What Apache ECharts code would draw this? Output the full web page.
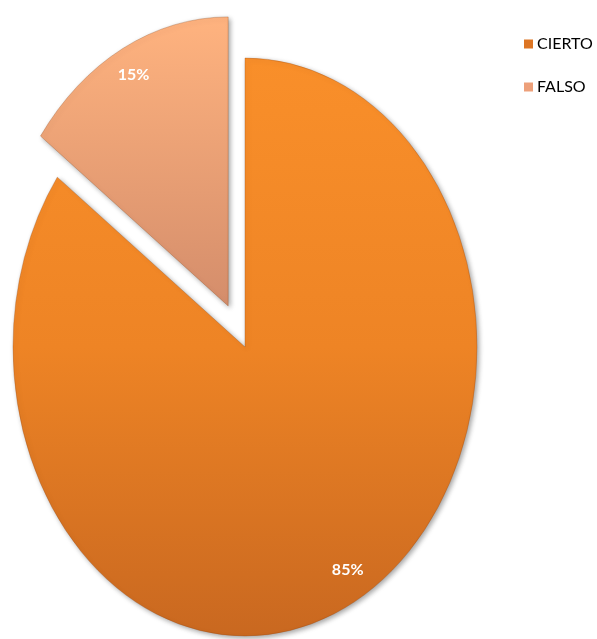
<!DOCTYPE html>
<html>
<head>
<meta charset="utf-8">
<script src="https://cdn.jsdelivr.net/npm/echarts@6/dist/echarts.min.js"></script>
<style>html,body{margin:0;padding:0;background:#fff;}#c{width:597px;height:639px;}</style>
</head>
<body>
<div id="c"></div>
<script>
const categories = ['CIERTO', 'FALSO'];
const values = [85, 15];
const labels = ['85%', '15%'];

const total = values.reduce((a, b) => a + b, 0);
const CX = 245, CY = 347, R = 232, SY = 289 / 232;
const EXPLODE = [0, 37];
const LABEL_NUDGE = [[10, -4], [-2, -4]];
const fills = [
  [[0, '#F98F2A'], [0.5, '#EE8425'], [1, '#C96820']],
  [[0, '#FFB37F'], [1, '#D48D6B']]
];
const legendColors = ['#DD7523', '#EDA07A'];

function startFrac(i) {
  let s = 0;
  for (let k = 0; k < i; k++) s += values[k];
  return s / total;
}

const series = categories.map((name, i) => ({
  type: 'custom',
  name: name,
  coordinateSystem: 'none',
  itemStyle: { color: legendColors[i] },
  data: [[values[i]]],
  renderItem: function (params, api) {
    const v = api.value(0);
    const f0 = startFrac(i);
    const f1 = f0 + v / total;
    const a0 = -Math.PI / 2 + f0 * 2 * Math.PI;
    const a1 = -Math.PI / 2 + f1 * 2 * Math.PI;
    const mid = (a0 + a1) / 2;
    const d = EXPLODE[i];
    const ox = CX + Math.cos(mid) * d;
    const oy = CY + Math.sin(mid) * d * SY;
    const lx = ox + Math.cos(mid) * R * 0.88 + LABEL_NUDGE[i][0];
    const ly = oy + Math.sin(mid) * R * 0.88 * SY + LABEL_NUDGE[i][1];
    return {
      type: 'group',
      children: [
        {
          type: 'sector',
          x: ox, y: oy, scaleY: SY,
          shape: { cx: 0, cy: 0, r: R, r0: 0, startAngle: a0, endAngle: a1, clockwise: true },
          style: {
            fill: new echarts.graphic.LinearGradient(0, 0, 0, 1,
              fills[i].map(s => ({ offset: s[0], color: s[1] }))),
            stroke: 'rgba(150,70,20,0.35)',
            lineWidth: 0.8,
            strokeNoScale: true,
            shadowBlur: 5,
            shadowOffsetX: 2,
            shadowOffsetY: 2,
            shadowColor: 'rgba(0,0,0,0.35)'
          }
        },
        {
          type: 'text',
          x: lx, y: ly,
          style: {
            text: labels[i],
            fill: '#ffffff',
            font: 'bold 16px Lato, "Open Sans", sans-serif',
            align: 'center',
            verticalAlign: 'middle'
          }
        }
      ]
    };
  }
}));

const chart = echarts.init(document.getElementById('c'), null, { renderer: 'canvas' });
chart.setOption({
  animation: false,
  backgroundColor: '#ffffff',
  legend: {
    orient: 'vertical',
    left: 519,
    top: 31,
    itemWidth: 9,
    itemHeight: 9,
    itemGap: 27,
    icon: 'rect',
    data: categories,
    textStyle: { fontFamily: 'Lato, "Open Sans", sans-serif', fontSize: 16, color: '#000', padding: [0, 0, 0, -1] }
  },
  series: series
});
</script>
</body>
</html>
